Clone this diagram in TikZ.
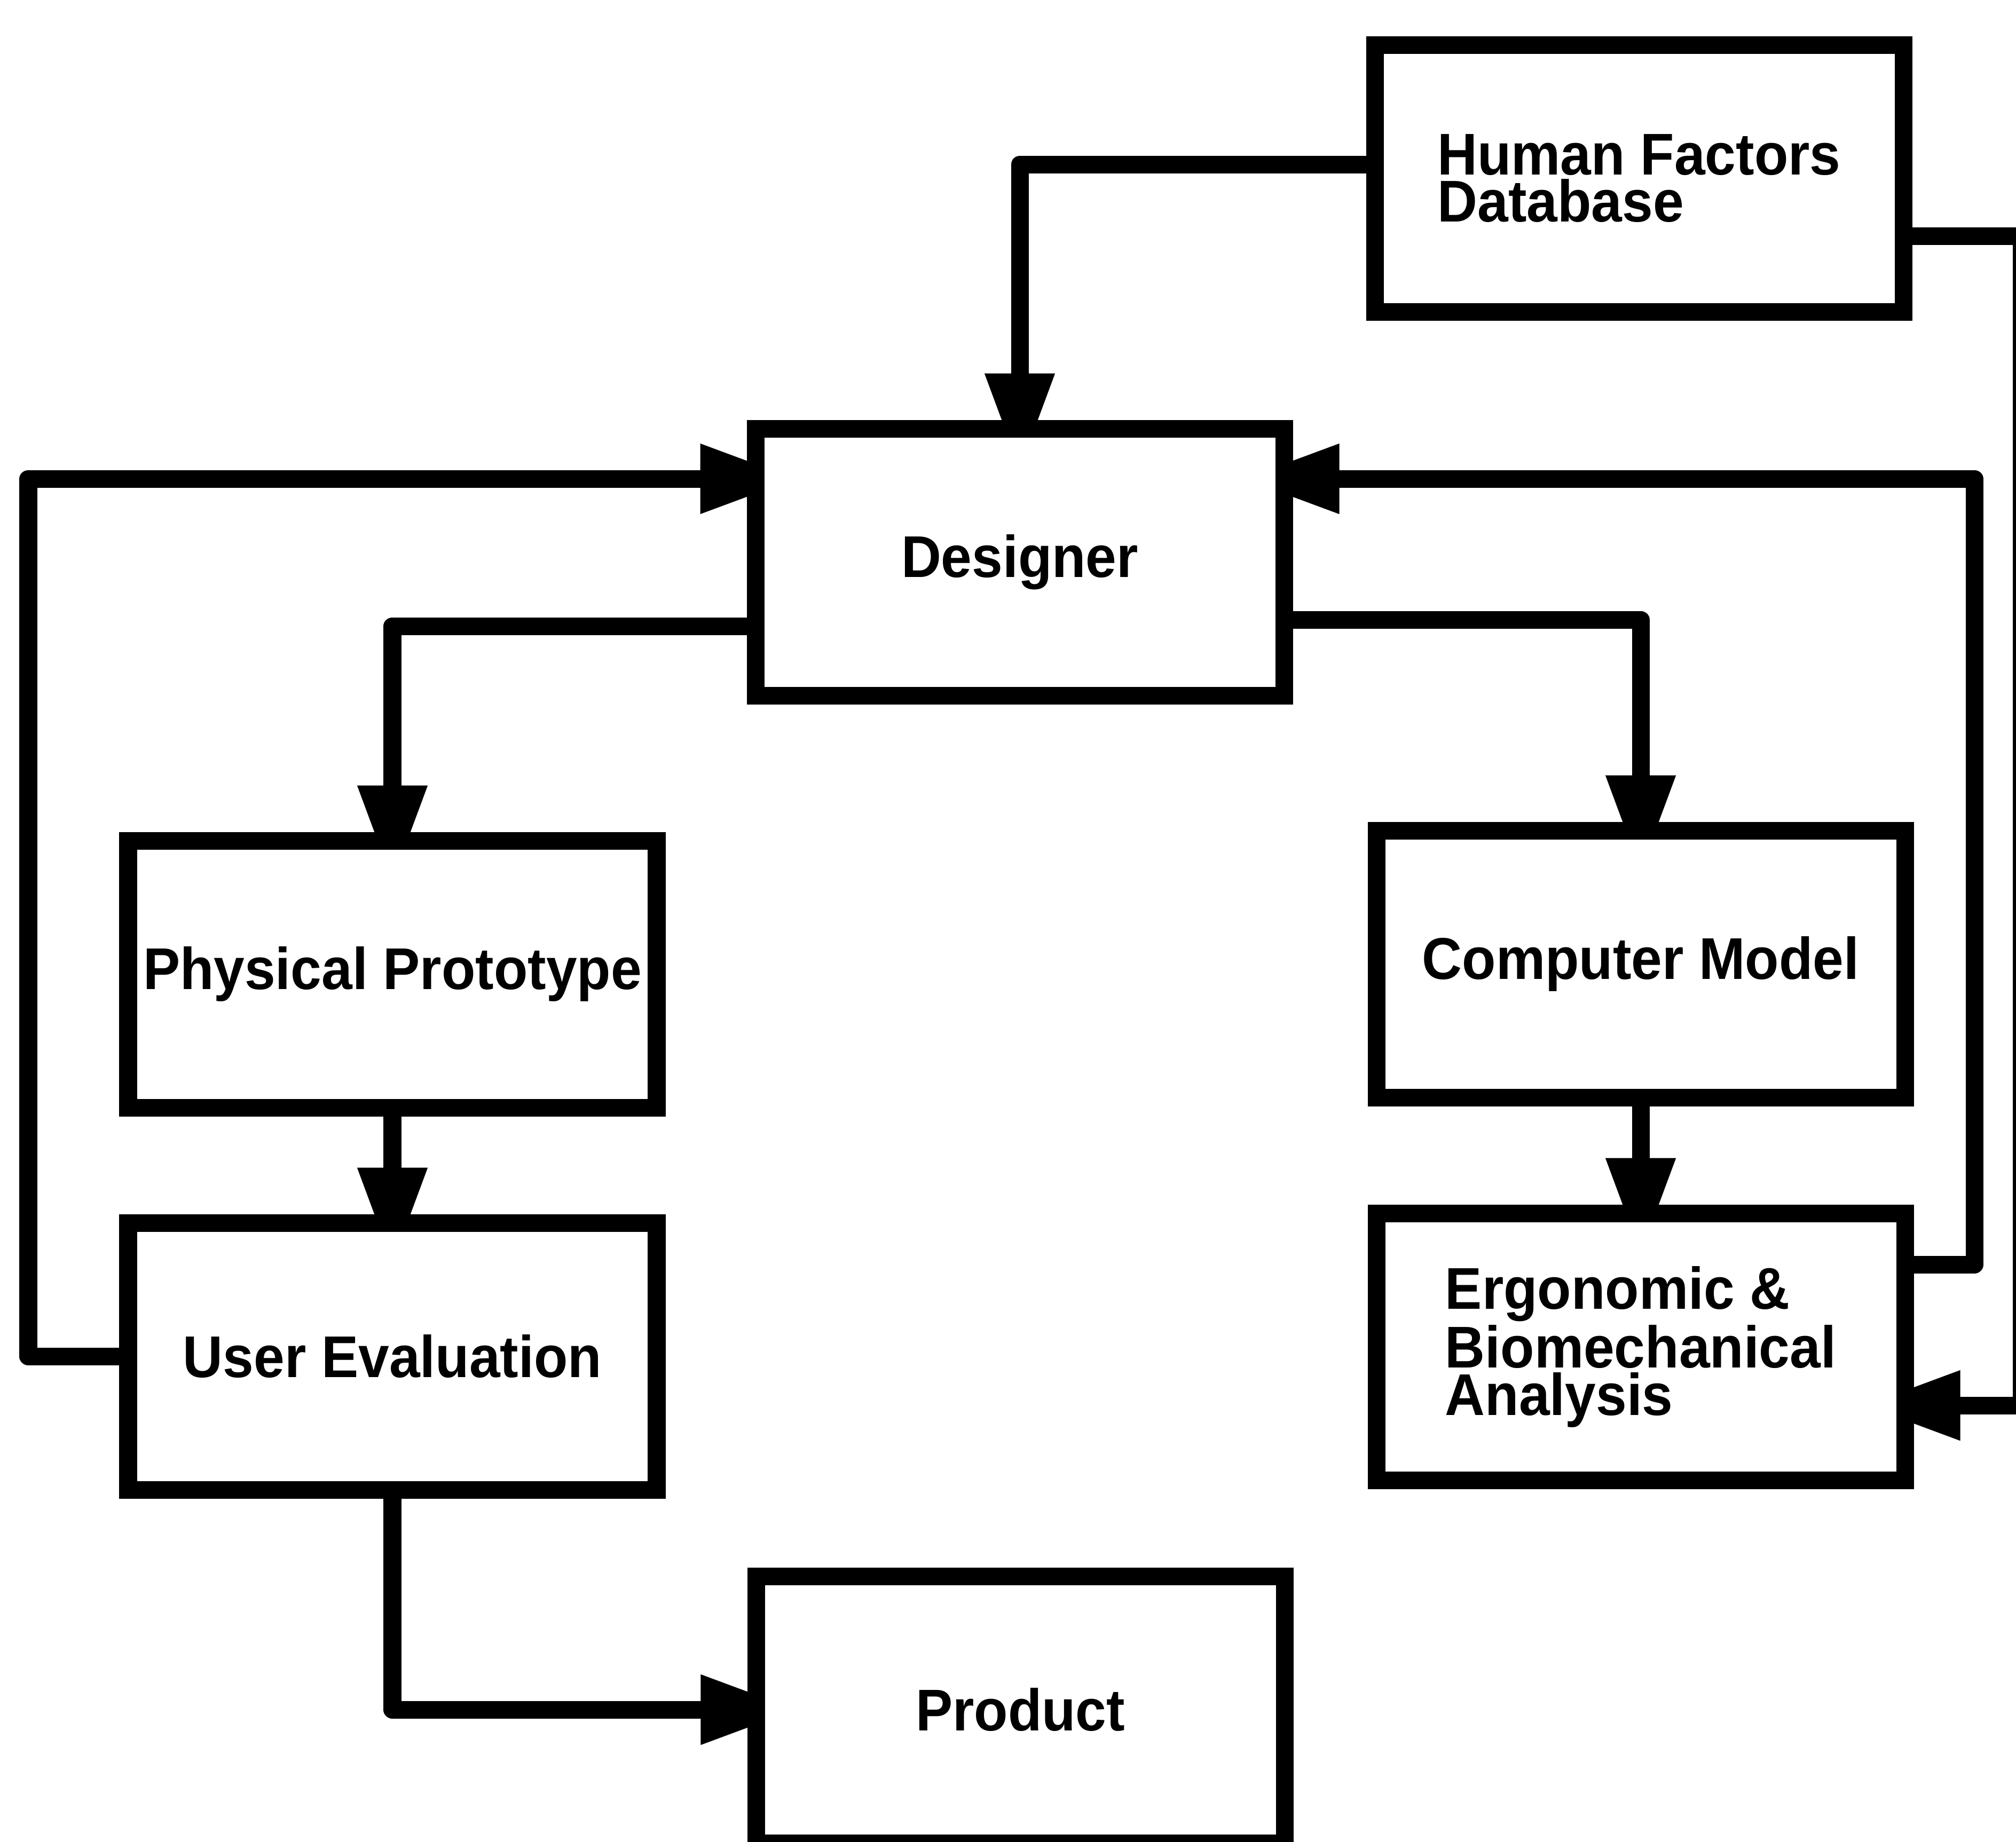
\documentclass[tikz,border=0pt]{standalone}
\usepackage{fontspec}
\setmainfont{Liberation Sans}[FakeStretch=0.94]
\usetikzlibrary{arrows.meta,positioning,backgrounds}

\tikzset{
  block/.style={draw, fill=white, line width=4.7pt, minimum width=4.95cm, minimum height=2.5cm,
    inner sep=1mm, align=center, font=\fontsize{15.7}{12.6}\selectfont\bfseries},
  flow/.style={line width=4.7pt, line join=round, shorten >=-4.8mm,
    -{Triangle[length=9.15mm,width=6.1mm]}}
}

\begin{document}
\begin{tikzpicture}
  \useasboundingbox (0,0) rectangle (18.88,-17.25);

  \node[block,align=left] (hfd) at (15.35,-1.67) {Human Factors\\Database};
  \node[block] (designer) at (9.55,-5.265) {Designer};
  \node[block] (physical) at (3.675,-9.125) {Physical Prototype};
  \node[block,below=9.15mm of physical] (user) {User Evaluation};
  \node[block] (computer) at (15.365,-9.03) {Computer Model};
  \node[block,align=left,below=9.2mm of computer] (ergo) {Ergonomic \&\\Biomechanical\\Analysis};
  \node[block] (product) at (9.555,-16.015) {Product};

  \coordinate (leftrail) at (0.265,-8);
  \coordinate (innerrail) at (18.49,-8);
  \coordinate (outerrail) at (18.93,-8);

  \begin{pgfonlayer}{background}
    \fill[white] (0,0) rectangle (18.88,-17.25);
    \draw[flow] ([yshift=1.3mm]hfd.west) -| (designer.north);
    \draw[flow] ([yshift=-5.4mm]hfd.east) -| (outerrail) |- ([yshift=-5.5mm]ergo.east);
    \draw[flow] ([yshift=7.7mm]ergo.east) -| (innerrail) |- ([yshift=7.8mm]designer.east);
    \draw[flow] ([yshift=-6mm]designer.west) -| (physical.north);
    \draw[flow] ([yshift=-5.4mm]designer.east) -| (computer.north);
    \draw[flow] (physical) -- (user);
    \draw[flow] (computer) -- (ergo);
    \draw[flow] (user.west) -| (leftrail) |- ([yshift=7.8mm]designer.west);
    \draw[flow] (user.south) |- (product.west);
  \end{pgfonlayer}
\end{tikzpicture}
\end{document}
